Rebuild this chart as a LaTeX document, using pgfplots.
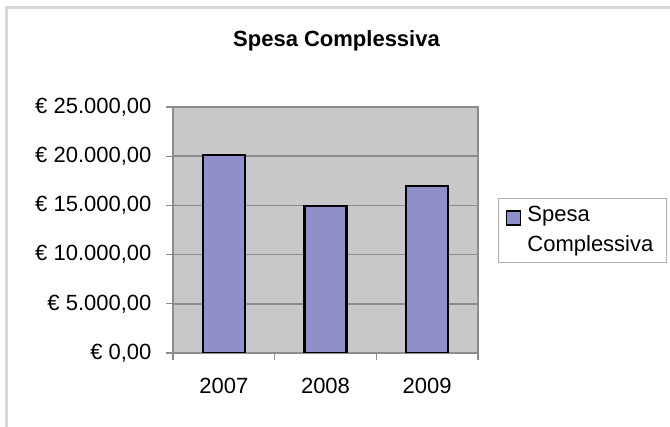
\documentclass[border=0pt]{standalone}
\usepackage{fontspec}
\setmainfont{Liberation Sans}
\usepackage{pgfplots}
\pgfplotsset{compat=1.18}
\definecolor{barfill}{RGB}{143,143,201}
\definecolor{plotbg}{RGB}{200,200,203}
\definecolor{gridc}{RGB}{140,140,140}
\definecolor{framec}{RGB}{215,215,218}
\definecolor{legc}{RGB}{175,175,175}
\begin{document}
\begin{tikzpicture}[x=1pt,y=1pt]
\useasboundingbox (0,0) rectangle (670,427);
\draw[line width=3pt, framec] (6,-5) -- (6,419) -- (680,419);
\node[font=\fontsize{22}{26}\selectfont\bfseries, anchor=base, inner sep=0pt] at (336.5,380) {Spesa Complessiva};
\begin{axis}[
  at={(173pt,74pt)}, anchor=south west,
  scale only axis, width=305pt, height=246pt,
  xmin=-0.5, xmax=2.5, ymin=0, ymax=25000,
  axis background/.style={fill=plotbg},
  axis line style={gridc, line width=1.5pt},
  scaled y ticks=false,
  xtick pos=bottom, ytick pos=left,
  ytick={0,5000,10000,15000,20000,25000},
  yticklabels={{€ 0,00},{€ 5.000,00},{€ 10.000,00},{€ 15.000,00},{€ 20.000,00},{€ 25.000,00}},
  ymajorgrids, grid style={gridc, line width=1.5pt},
  xtick={-0.5,0.5,1.5,2.5}, xticklabels={},
  extra x ticks={0,1,2}, extra x tick labels={2007,2008,2009},
  extra x tick style={major tick length=0pt, grid=none},
  tick align=outside, major tick length=7pt,
  tick style={gridc, line width=1.2pt},
  /pgf/number format/assume math mode=true,
  ticklabel style={font=\fontsize{22}{26}\selectfont},
  yticklabel style={xshift=-11pt},
  xticklabel style={yshift=-22pt},
  legend style={at={(1.0656,0.630)}, anchor=north west, draw=legc, line width=1.2pt,
    font=\fontsize{22}{30}\selectfont, inner xsep=7pt, inner ysep=2pt, column sep=6pt,
    cells={anchor=base west}, nodes={inner sep=0pt, text depth=}},
  legend cell align=left,
]
\addplot[ybar, bar width=42pt, fill=barfill, draw=black, line width=2.2pt,
  legend image code/.code={\path (3pt,-6pt); \draw[##1, line width=1.5pt] (3pt,5.5pt) rectangle (17pt,19.5pt);}]
  coordinates {(0,20150) (1,14900) (2,16980)};
\addlegendentry{\begin{tabular}[t]{@{}l@{\hspace{6pt}}}Spesa\\Complessiva\end{tabular}}
\end{axis}
\end{tikzpicture}
\end{document}
